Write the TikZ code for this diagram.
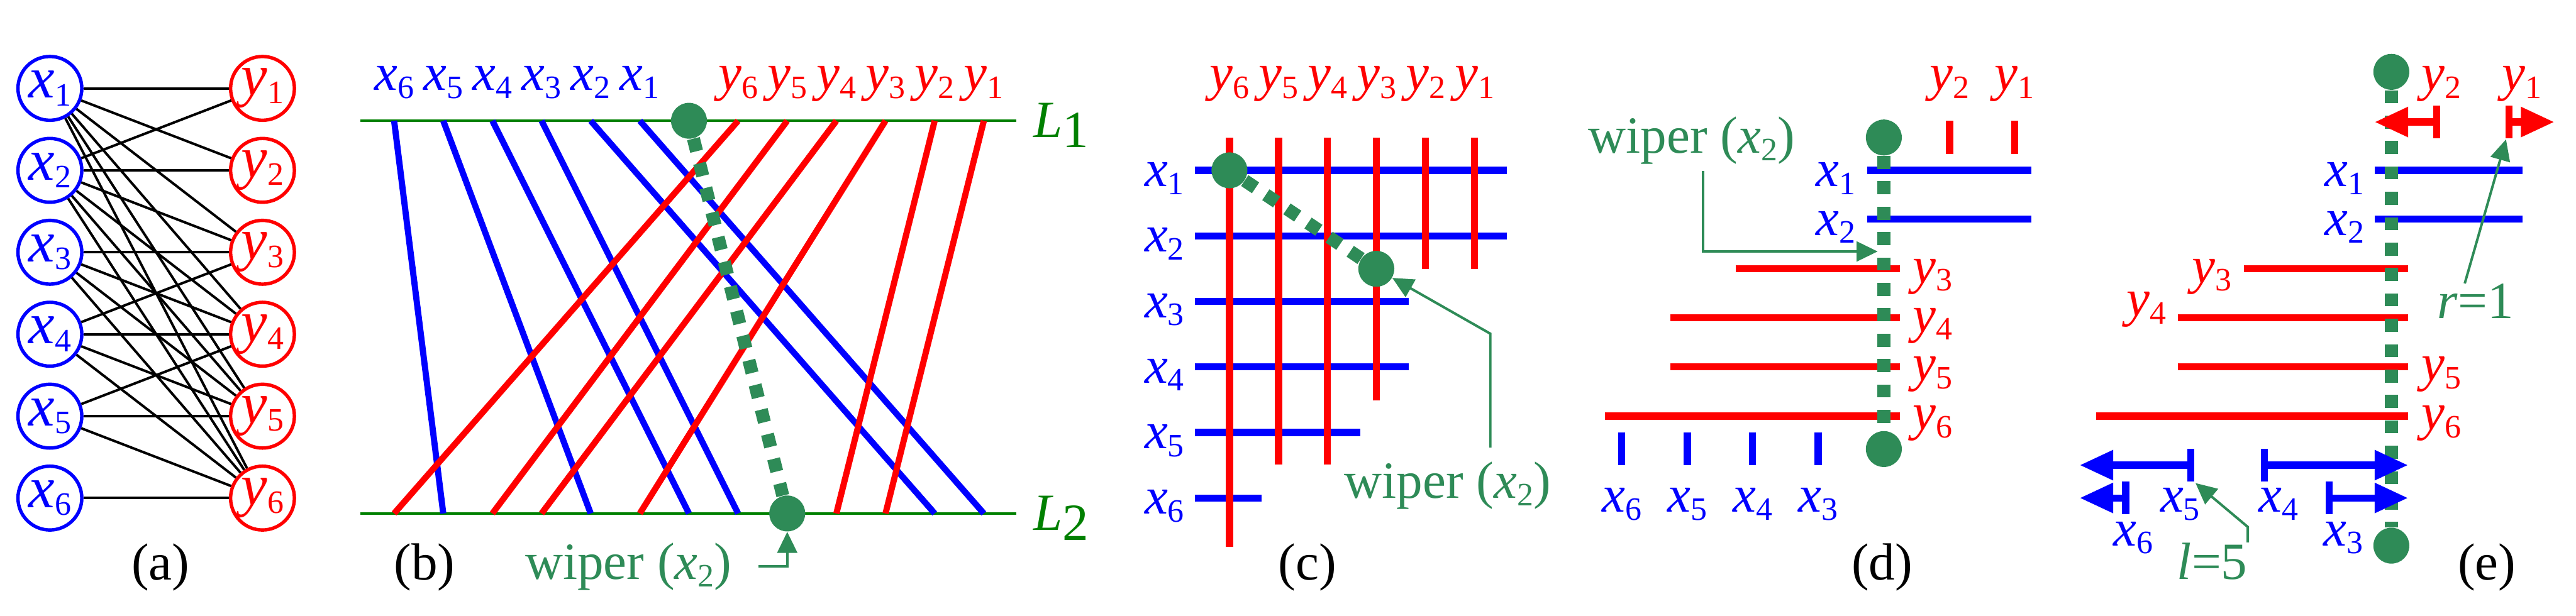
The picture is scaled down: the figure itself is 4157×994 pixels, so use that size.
\documentclass[tikz,border=0pt]{standalone}
\usepackage{fontspec}
\setmainfont{Liberation Serif}
\usetikzlibrary{arrows.meta}
\definecolor{wipgreen}{HTML}{2E8B57}
\definecolor{lgreen}{RGB}{0,128,0}
\newcommand{\vsub}[2]{\textit{#1}\raisebox{-3.6pt}{\fontsize{15}{15}\selectfont #2}}

\begin{document}
\begin{tikzpicture}[x=0.1mm, y=-0.1mm,
    font=\fontsize{24}{28}\selectfont,
    lab/.style={inner sep=0pt, anchor=base},
    vx/.style={circle, draw=#1, text=#1, line width=0.55mm, minimum size=10.3mm,
               inner sep=0pt, font=\fontsize{27}{30}\selectfont},
    link/.style={line width=0.4mm},
    seg/.style={#1, line width=1.0mm},
    stroke/.style={#1, line width=1.15mm},
    lline/.style={lgreen, line width=0.4mm},
    wdot/.style={circle, fill=wipgreen, inner sep=0pt, minimum size=5.8mm},
    wipe/.style={wipgreen, line width=2.1mm, dash pattern=on 2.1mm off 2.0mm},
    garr/.style={wipgreen, line width=0.4mm, -{Triangle[length=3.4mm, width=3.2mm]}},
    push/.style={#1, line width=1.15mm, {Bar[width=5.3mm]}-{Triangle[length=5.4mm, width=4.6mm]}}
]
\useasboundingbox (0,0) rectangle (4157,994);

% (a) bipartite graph
\foreach \i in {1,...,6} {
  \node[vx=blue] (ax\i) at (80.5,{142.7+132.3*(\i-1)}) {\vsub{x}{\i}};
  \node[vx=red] (ay\i) at (423.6,{142.7+132.3*(\i-1)}) {\vsub{y}{\i}};
}
\foreach \a/\b in {1/1,1/2,1/3,1/4,1/5,1/6,2/1,2/2,2/3,2/4,2/5,2/6,
                   3/3,3/4,3/5,3/6,4/3,4/4,4/5,4/6,5/4,5/5,5/6,6/6}
  \draw[link] (ax\a) -- (ay\b);
\node (capa) at (259,916) {(a)};

% (b) two lines L1, L2
\coordinate (l1w) at (582,195);
\coordinate (l1e) at (1640,195);
\coordinate (l2w) at (582,829);
\coordinate (l2e) at (1640,829);
\draw[lline] (l1w) -- (l1e);
\draw[lline] (l2w) -- (l2e);
\node[lab, anchor=base west, text=lgreen] (l1) at (1667,222) {\textit{L}\raisebox{-4.5pt}{1}};
\node[lab, anchor=base west, text=lgreen] (l2) at (1667,856) {\textit{L}\raisebox{-4.5pt}{2}};
\foreach \k in {0,...,12} {
  \coordinate (t\k) at ({636+79.3*\k},195);
  \coordinate (b\k) at ({636+79.3*\k},829);
}
\foreach \k/\n in {0/6,1/5,2/4,3/3,4/2,5/1}
  \node[lab, blue] (bx\n) at (t\k |- 0,146) {\vsub{x}{\n}};
\foreach \k/\n in {7/6,8/5,9/4,10/3,11/2,12/1}
  \node[lab, red] (by\n) at (t\k |- 0,146) {\vsub{y}{\n}};
\foreach \s/\e in {0/1,1/4,2/6,3/7,4/11,5/12}
  \draw[seg=blue] (t\s) -- (b\e);
\foreach \s/\e in {7/0,8/2,9/3,10/5,11/9,12/10}
  \draw[seg=red] (t\s) -- (b\e);
\node[wdot] (wb1) at (t6) {};
\node[wdot] (wb2) at (b8) {};
\draw[wipe] (wb1) -- (wb2);
\node[lab, wipgreen] (wipb) at (1014,935) {wiper (\vsub{x}{2})};
\draw[garr] ([xshift=12]wipb.east) -| (wb2);
\node (capb) at (685,916) {(b)};

% (c) grid
\foreach \j/\n in {0/6,1/5,2/4,3/3,4/2,5/1}
  \node[lab, red] (cy\n) at ({1984+79.1*\j},146) {\vsub{y}{\n}};
\foreach \i in {1,...,6}
  \node[lab, blue] (cx\i) at (1879,{301+105.8*(\i-1)}) {\vsub{x}{\i}};
\foreach \i/\e in {1/2432,2/2432,3/2273,4/2273,5/2195,6/2036}
  \draw[stroke=blue] (1928,{275+105.8*(\i-1)}) -- (\e,{275+105.8*(\i-1)});
\foreach \j/\e in {0/883,1/750,2/750,3/646,4/434,5/434}
  \draw[stroke=red] ({1984+79.1*\j},222) -- ({1984+79.1*\j},\e);
\node[wdot] (wc1) at (1984,275) {};
\node[wdot] (wc2) at (2221,434) {};
\draw[wipe] (wc1) -- (wc2);
\node[lab, wipgreen] (wipc) at (2336,804) {wiper (\vsub{x}{2})};
\draw[garr] ([shift={(69,-22)}]wipc.north) -- ++(0,-184) -- (wc2);
\node (capc) at (2110,916) {(c)};

% (d) sweep at x2
\draw[stroke=blue] (3013,275) -- (3278,275);
\draw[stroke=blue] (3013,354) -- (3278,354);
\node[lab, blue] (dx1) at (2962,301) {\vsub{x}{1}};
\node[lab, blue] (dx2) at (2962,380) {\vsub{x}{2}};
\draw[stroke=red] (3146,195) -- (3146,249);
\draw[stroke=red] (3251,195) -- (3251,249);
\node[lab, red] (dy2) at (3146,146) {\vsub{y}{2}};
\node[lab, red] (dy1) at (3251,146) {\vsub{y}{1}};
\draw[stroke=red] (2801,434) -- (3066,434);
\draw[stroke=red] (2696,513) -- (3066,513);
\draw[stroke=red] (2696,592) -- (3066,592);
\draw[stroke=red] (2590,672) -- (3066,672);
\node[lab, red] (dy3) at (3119,457) {\vsub{y}{3}};
\node[lab, red] (dy4) at (3119,536) {\vsub{y}{4}};
\node[lab, red] (dy5) at (3119,615) {\vsub{y}{5}};
\node[lab, red] (dy6) at (3119,694) {\vsub{y}{6}};
\foreach \x/\n in {2617/6,2723/5,2828/4,2934/3} {
  \draw[stroke=blue] (\x,698) -- (\x,751);
  \node[lab, blue] (dx\n) at (\x,827) {\vsub{x}{\n}};
}
\node[wdot] (wd1) at (3040,222) {};
\node[wdot] (wd2) at (3040,725) {};
\draw[wipe] (wd1) -- (wd2);
\node[lab, wipgreen] (wipd) at (2730,247) {wiper (\vsub{x}{2})};
\coordinate (dhit) at (3030,406);
\draw[garr] ([shift={(18,10)}]wipd.south) |- (dhit);
\node (capd) at (3037,916) {(d)};

% (e) free ends left and right
\draw[stroke=blue] (3832,275) -- (4071,275);
\draw[stroke=blue] (3832,354) -- (4071,354);
\node[lab, blue] (ex1) at (3783,301) {\vsub{x}{1}};
\node[lab, blue] (ex2) at (3783,380) {\vsub{x}{2}};
\draw[stroke=red] (3621,434) -- (3886,434);
\draw[stroke=red] (3515,513) -- (3886,513);
\draw[stroke=red] (3515,592) -- (3886,592);
\draw[stroke=red] (3383,672) -- (3886,672);
\node[lab, red] (ey3) at (3569,457) {\vsub{y}{3}};
\node[lab, red] (ey4) at (3464,510) {\vsub{y}{4}};
\node[lab, red] (ey5) at (3940,615) {\vsub{y}{5}};
\node[lab, red] (ey6) at (3940,694) {\vsub{y}{6}};
\node[wdot] (we1) at (3859,116) {};
\node[wdot] (we2) at (3859,881) {};
\draw[wipe] (we1) -- (we2);
\draw[push=red] (3938,197) -- (3832,197);
\draw[push=red] (4043,197) -- (4122,197);
\node[lab, red] (ey2) at (3940,146) {\vsub{y}{2}};
\node[lab, red] (ey1) at (4070,146) {\vsub{y}{1}};
\draw[push=blue] (3541,751) -- (3356,751);
\draw[push=blue] (3648,751) -- (3886,751);
\draw[push=blue] (3436,804) -- (3356,804);
\draw[push=blue] (3753,804) -- (3886,804);
\node[lab, blue] (ex5) at (3518,827) {\vsub{x}{5}};
\node[lab, blue] (ex4) at (3677,827) {\vsub{x}{4}};
\node[lab, blue] (ex6) at (3442,881) {\vsub{x}{6}};
\node[lab, blue] (ex3) at (3781,881) {\vsub{x}{3}};
\node[lab, wipgreen] (rlab) at (3995,514) {\textit{r}=1};
\coordinate (rtip) at (4044,225);
\draw[garr] ([xshift=-5]rlab.north) -- (rtip);
\node[lab, wipgreen] (llab) at (3570,935) {\textit{l}=5};
\coordinate (ltip) at (3543,780);
\draw[garr] (llab.north east) -- ++(0,-25) -- (ltip);
\node (cape) at (4013,916) {(e)};
\end{tikzpicture}
\end{document}
